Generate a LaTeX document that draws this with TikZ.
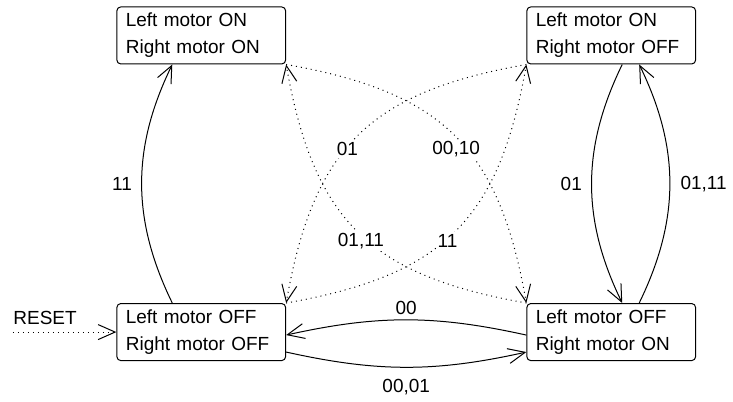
\documentclass[tikz,border=0pt]{standalone}
\usepackage{fontspec}
\setmainfont{Liberation Sans}
\usetikzlibrary{arrows.meta}
\tikzset{
    state/.style = {rectangle, draw=black, line width=0.5pt, rounded corners=2pt, align=left, text width=75.5pt, inner xsep=4.5pt, minimum width=84.5pt, minimum height=27.5pt},
    edgen/.style = {-{Straight Barb[length=8.5pt,width=7.5pt]}, line width=0.5pt},
    edged/.style = {edgen, dotted}, % dotted moves
    lblw/.style = {fill=white, inner sep=1pt},
    every picture/.style={font issue=\fontsize{9.5pt}{13.4pt}},
    font issue/.style={execute at begin picture={#1\selectfont}
  }
}

\begin{document}
\begin{tikzpicture}[x=10pt,y=10pt]
%
\node[state] at (10.075,18.025) (onon) {Left motor ON\\Right motor ON};
\node[state] at (30.6,18.025) (onoff) {Left motor ON\\Right motor OFF};
\node[state] at (10.075,3.175) (offoff) {Left motor OFF\\Right motor OFF};
\node[state] at (30.6,3.175) (offon) {Left motor OFF\\Right motor ON};
\coordinate (reset) at (0.65,3.175);
%
\draw[edged] (reset) -- node[pos=0,above right,inner xsep=0pt,inner ysep=3.5pt] {RESET} (offoff);
\draw[edgen] ([xshift=-14.5pt]offoff.north) to[bend left=26] node[left=1.5pt] {11} ([xshift=-14.5pt]onon.south);
\draw[edgen] ([xshift=5.5pt]onoff.south) to[bend right=26] node[left=1.5pt] {01} ([xshift=5.5pt]offon.north);
\draw[edgen] ([xshift=14pt]offon.north) to[bend right=26] node[right=2pt] {01,11} ([xshift=14pt]onoff.south);
\draw[edgen] ([yshift=-1.5pt]offon.west) to[bend right=12.5] node[above=-1pt] {00} ([yshift=-1.5pt]offoff.east);
\draw[edgen] ([yshift=-10pt]offoff.east) to[bend right=12.5] node[below=2.8pt] {00,01} ([yshift=-10pt]offon.west);
%
\draw[edged] (onon.south east) to[out=-10,in=100,looseness=1.2] node[lblw,pos=0.55,xshift=-4.5pt,yshift=-1.25pt] {00,10} (offon.north west);
\draw[edged] (offon.north west) to[out=170,in=-80,looseness=1.2] node[lblw,pos=0.45,xshift=-4.3pt,yshift=0.8pt] {01,11} (onon.south east);
\draw[edged] (offoff.north east) to[out=10,in=-100,looseness=1.2] node[lblw,pos=0.45,xshift=2.3pt,yshift=0.8pt] {11} (onoff.south west);
\draw[edged] (onoff.south west) to[out=190,in=80,looseness=1.2] node[lblw,pos=0.55,yshift=-1.25pt] {01} (offoff.north east);

\path[use as bounding box] (0,0) rectangle (36.65,19.8);
\end{tikzpicture}
\end{document}
